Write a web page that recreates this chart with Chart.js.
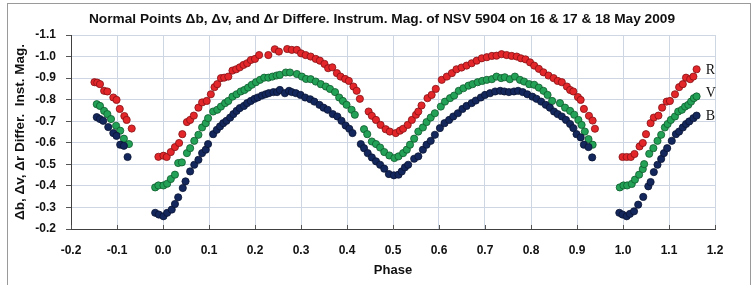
<!DOCTYPE html>
<html><head><meta charset="utf-8">
<script src="https://cdn.jsdelivr.net/npm/chart.js@4.4.0/dist/chart.umd.min.js"></script>
<style>html,body{margin:0;padding:0;background:#fff;}#wrap{width:755px;height:285px;position:relative;}</style>
</head><body><div id="wrap"><canvas id="c" width="755" height="285"></canvas></div>
<script>
// ---- data ----
const xTickLabels = ['-0.2','-0.1','0.0','0.1','0.2','0.3','0.4','0.5','0.6','0.7','0.8','0.9','1.0','1.1','1.2'];
const yTickLabels = ['-1.1','-1.0','-0.9','-0.8','-0.7','-0.6','-0.5','-0.4','-0.3','-0.2'];
const seriesNames = ['R','V','B'];

const rPhase = [-0.149,-0.143,-0.137,-0.128,-0.121,-0.108,-0.101,-0.094,-0.084,-0.079,-0.068,
 -0.010,0.001,0.008,0.017,0.026,0.035,0.042,0.052,0.059,0.067,0.077,0.085,0.095,0.104,0.112,0.118,0.126,0.133,0.142,0.151,0.159,0.167,0.175,0.183,0.191,0.200,0.209,0.229,0.243,0.252,0.270,
 0.280,0.291,0.300,0.310,0.321,0.332,0.341,0.351,0.359,0.368,0.378,0.386,0.396,0.404,0.414,0.421,0.428,0.447,0.454,0.463,0.473,0.484,0.493,0.506,0.515,0.522,0.532,0.541,0.550,0.555,0.562,0.575,0.584,0.593,
 0.606,0.617,0.628,0.638,0.649,0.660,0.671,0.682,0.693,0.704,0.715,0.725,0.736,0.747,0.758,0.769,0.778,0.788,0.798,0.807,0.817,0.827,0.838,0.849,0.858,0.867,0.878,0.885,0.892,0.902,0.908,0.915,0.926,0.934,0.939,
 0.999,1.008,1.017,1.025,1.036,1.043,1.050,1.060,1.067,1.077,1.085,1.095,1.102,1.113,1.122,1.130,1.137,1.146,1.153,1.160];
const rMag = [-0.881,-0.879,-0.872,-0.841,-0.838,-0.810,-0.799,-0.757,-0.724,-0.706,-0.666,
 -0.535,-0.540,-0.534,-0.557,-0.580,-0.599,-0.640,-0.696,-0.706,-0.726,-0.763,-0.787,-0.794,-0.825,-0.858,-0.872,-0.900,-0.902,-0.907,-0.935,-0.941,-0.950,-0.961,-0.969,-0.984,-0.989,-1.007,-1.007,-1.034,-1.023,-1.035,
 -1.031,-1.031,-1.015,-1.007,-1.000,-0.989,-0.981,-0.966,-0.946,-0.950,-0.923,-0.907,-0.896,-0.887,-0.861,-0.841,-0.804,-0.745,-0.725,-0.706,-0.683,-0.663,-0.652,-0.645,-0.656,-0.665,-0.683,-0.706,-0.730,-0.745,-0.773,-0.807,-0.822,-0.850,
 -0.892,-0.907,-0.923,-0.941,-0.949,-0.958,-0.969,-0.981,-0.992,-0.997,-1.003,-1.004,-1.011,-1.007,-1.003,-1.000,-0.992,-0.987,-0.973,-0.958,-0.943,-0.927,-0.912,-0.900,-0.887,-0.881,-0.861,-0.845,-0.838,-0.812,-0.799,-0.757,-0.725,-0.703,-0.665,
 -0.534,-0.534,-0.534,-0.548,-0.583,-0.599,-0.640,-0.691,-0.717,-0.726,-0.763,-0.791,-0.794,-0.825,-0.858,-0.872,-0.902,-0.895,-0.907,-0.941];

const vPhase = [-0.144,-0.137,-0.128,-0.121,-0.113,-0.102,-0.093,-0.085,-0.074,
 -0.017,-0.010,0.001,0.009,0.017,0.026,0.033,0.041,0.052,0.059,0.068,0.077,0.085,0.093,0.098,0.109,0.118,0.126,0.135,0.142,0.151,0.160,0.169,0.177,0.185,0.193,0.202,0.211,0.220,0.229,0.238,0.247,0.254,0.267,0.276,
 0.291,0.302,0.311,0.321,0.332,0.343,0.354,0.363,0.374,0.383,0.391,0.399,0.410,0.417,0.437,0.444,0.454,0.463,0.472,0.481,0.492,0.503,0.512,0.522,0.530,0.537,0.546,0.555,0.565,0.573,0.582,0.591,
 0.604,0.613,0.624,0.633,0.643,0.653,0.664,0.673,0.684,0.694,0.704,0.715,0.725,0.735,0.743,0.754,0.765,0.776,0.785,0.796,0.807,0.817,0.827,0.836,0.846,0.863,0.874,0.885,0.894,0.903,0.910,0.917,0.925,0.934,
 0.993,1.001,1.009,1.019,1.026,1.035,1.043,1.046,1.057,1.066,1.075,1.083,1.091,1.097,1.104,1.113,1.120,1.128,1.135,1.142,1.148,1.154,1.160];
const vMag = [-0.779,-0.771,-0.748,-0.733,-0.710,-0.679,-0.656,-0.619,-0.594,
 -0.393,-0.402,-0.402,-0.410,-0.432,-0.452,-0.506,-0.509,-0.552,-0.575,-0.609,-0.637,-0.671,-0.691,-0.714,-0.745,-0.753,-0.768,-0.784,-0.794,-0.814,-0.825,-0.838,-0.845,-0.856,-0.869,-0.881,-0.892,-0.902,-0.902,-0.907,-0.912,-0.915,-0.926,-0.926,
 -0.919,-0.907,-0.896,-0.895,-0.884,-0.872,-0.861,-0.850,-0.835,-0.810,-0.794,-0.776,-0.753,-0.730,-0.663,-0.640,-0.606,-0.594,-0.578,-0.557,-0.541,-0.529,-0.537,-0.552,-0.568,-0.591,-0.619,-0.652,-0.671,-0.696,-0.717,-0.737,
 -0.768,-0.791,-0.807,-0.819,-0.841,-0.853,-0.865,-0.872,-0.881,-0.887,-0.892,-0.895,-0.907,-0.900,-0.904,-0.895,-0.907,-0.892,-0.884,-0.872,-0.869,-0.856,-0.841,-0.822,-0.794,-0.784,-0.763,-0.748,-0.730,-0.706,-0.683,-0.652,-0.617,-0.591,
 -0.393,-0.402,-0.402,-0.409,-0.429,-0.452,-0.478,-0.501,-0.549,-0.575,-0.609,-0.637,-0.671,-0.687,-0.706,-0.722,-0.745,-0.753,-0.768,-0.776,-0.791,-0.807,-0.815];

const bPhase = [-0.144,-0.137,-0.130,-0.119,-0.108,-0.101,-0.093,-0.085,-0.077,
 -0.017,-0.009,0.001,0.009,0.019,0.026,0.033,0.043,0.049,0.059,0.068,0.077,0.085,0.093,0.098,0.109,0.117,0.124,0.131,0.138,0.146,0.153,0.160,0.167,0.176,0.183,0.191,0.199,0.206,0.215,0.223,0.230,0.240,0.248,0.254,0.265,0.274,
 0.280,0.289,0.299,0.309,0.320,0.329,0.340,0.349,0.358,0.369,0.379,0.388,0.397,0.405,0.412,0.430,0.437,0.445,0.454,0.463,0.472,0.481,0.491,0.502,0.512,0.519,0.526,0.533,0.546,0.555,0.565,0.573,0.582,0.591,
 0.602,0.612,0.622,0.631,0.641,0.651,0.660,0.671,0.680,0.691,0.700,0.711,0.722,0.733,0.742,0.752,0.763,0.772,0.782,0.792,0.803,0.812,0.822,0.832,0.841,0.850,0.858,0.867,0.876,0.885,0.892,0.899,0.908,0.915,0.925,0.933,
 0.992,0.999,1.008,1.015,1.024,1.033,1.044,1.055,1.060,1.067,1.075,1.083,1.089,1.096,1.106,1.115,1.122,1.130,1.137,1.144,1.153,1.160];
const bMag = [-0.719,-0.710,-0.702,-0.673,-0.645,-0.632,-0.591,-0.586,-0.534,
 -0.275,-0.267,-0.259,-0.275,-0.290,-0.316,-0.347,-0.390,-0.421,-0.467,-0.498,-0.521,-0.552,-0.568,-0.594,-0.640,-0.660,-0.676,-0.691,-0.702,-0.717,-0.733,-0.748,-0.761,-0.771,-0.784,-0.794,-0.804,-0.810,-0.819,-0.825,-0.830,-0.835,-0.835,-0.845,-0.830,-0.841,
 -0.835,-0.830,-0.822,-0.810,-0.802,-0.791,-0.776,-0.763,-0.753,-0.733,-0.722,-0.702,-0.680,-0.665,-0.645,-0.594,-0.575,-0.552,-0.532,-0.514,-0.498,-0.480,-0.455,-0.449,-0.452,-0.467,-0.486,-0.498,-0.526,-0.537,-0.568,-0.591,-0.609,-0.637,
 -0.668,-0.691,-0.706,-0.722,-0.737,-0.757,-0.771,-0.784,-0.796,-0.810,-0.822,-0.830,-0.838,-0.841,-0.838,-0.835,-0.838,-0.841,-0.835,-0.825,-0.814,-0.804,-0.791,-0.776,-0.763,-0.745,-0.733,-0.722,-0.706,-0.687,-0.668,-0.640,-0.625,-0.591,-0.580,-0.532,
 -0.275,-0.267,-0.259,-0.270,-0.282,-0.313,-0.349,-0.398,-0.418,-0.464,-0.498,-0.525,-0.552,-0.575,-0.609,-0.640,-0.652,-0.671,-0.687,-0.699,-0.714,-0.726];

// ---- chart ----
const FONT = "'Liberation Sans',Arial,sans-serif";
const toPts = (xs, ys) => xs.map((x, i) => ({x: x, y: ys[i]}));
const labelFor = (list, v) => {
  const hit = list.find(l => Math.abs(parseFloat(l) - v) < 1e-6);
  return hit !== undefined ? hit : (Math.abs(v) < 1e-9 ? '0.0' : v.toFixed(1));
};

const decor = {
  id: 'decor',
  beforeDraw(chart) {
    const ctx = chart.ctx;
    ctx.save();
    ctx.fillStyle = '#fff';
    ctx.fillRect(0, 0, chart.width, chart.height);
    ctx.strokeStyle = '#9a9a9a';
    ctx.lineWidth = 1;
    ctx.strokeRect(7.5, 3.5, 743, 300);
    ctx.restore();
  },
  afterDraw(chart) {
    const ctx = chart.ctx;
    const xs = chart.scales.x, ys = chart.scales.y;
    const area = chart.chartArea;
    ctx.save();
    // short inside tick marks on the x axis
    ctx.strokeStyle = '#555';
    ctx.lineWidth = 1;
    xs.ticks.forEach(t => {
      const px = Math.round(xs.getPixelForValue(t.value)) + 0.5;
      ctx.beginPath();
      ctx.moveTo(px, area.bottom);
      ctx.lineTo(px, area.bottom - 4);
      ctx.stroke();
    });
    ctx.fillStyle = '#111';
    ctx.font = "bold 13.7px " + FONT;
    ctx.textAlign = 'center';
    ctx.textBaseline = 'middle';
    ctx.fillText('Normal Points \u0394b, \u0394v, and \u0394r Differe. Instrum. Mag. of NSV 5904 on 16 & 17 & 18 May 2009', 382, 19);
    const labY = [-0.938, -0.831, -0.725];
    ctx.font = "14px 'Liberation Serif','DejaVu Serif',serif";
    ctx.textAlign = 'left';
    seriesNames.forEach((n, i) => {
      ctx.fillText(n, xs.getPixelForValue(1.18), ys.getPixelForValue(labY[i]));
    });
    ctx.restore();
  }
};

const mk = (label, pts, fill, stroke) => ({
  label: label, data: pts, showLine: false,
  pointRadius: 3.6, pointHoverRadius: 3.6, pointBorderWidth: 0.8,
  backgroundColor: fill, borderColor: stroke,
  pointBackgroundColor: fill, pointBorderColor: stroke
});

new Chart(document.getElementById('c'), {
  type: 'scatter',
  data: {
    datasets: [
      mk('B', toPts(bPhase, bMag), '#13275c', '#0a1433'),
      mk('V', toPts(vPhase, vMag), '#23a257', '#0e5a2c'),
      mk('R', toPts(rPhase, rMag), '#e3262a', '#851014')
    ]
  },
  options: {
    responsive: false, animation: false, devicePixelRatio: 1,
    layout: {padding: {top: 35, right: 40, bottom: 0, left: 0}},
    plugins: {legend: {display: false}, tooltip: {enabled: false}, title: {display: false}},
    scales: {
      x: {
        type: 'linear', min: -0.2, max: 1.2,
        afterFit: s => { s.height = 56; },
        ticks: {stepSize: 0.1, color: '#111', padding: 14, font: {family: FONT, size: 12, weight: 'bold'},
          callback: v => labelFor(xTickLabels, v)},
        grid: {color: '#cdd6e2', lineWidth: 1, tickLength: 0, drawTicks: false},
        border: {display: true, color: '#404040', width: 1},
        title: {display: true, text: 'Phase', color: '#111', font: {family: FONT, size: 13, weight: 'bold'}, padding: {top: 0, bottom: 7}}
      },
      y: {
        type: 'linear', min: -1.1, max: -0.2, reverse: true,
        afterFit: s => { s.width = 71; },
        ticks: {stepSize: 0.1, color: '#111', padding: 10, font: {family: FONT, size: 12, weight: 'bold'},
          callback: v => labelFor(yTickLabels, v)},
        grid: {color: '#cdd6e2', lineWidth: 1, tickLength: 5, tickColor: '#555'},
        border: {display: true, color: '#404040', width: 1},
        title: {display: true, text: '\u0394b, \u0394v, \u0394r Differ.  Inst. Mag.', color: '#111', font: {family: FONT, size: 13.5, weight: 'bold'}, padding: {top: 12, bottom: 0}}
      }
    }
  },
  plugins: [decor]
});
</script></body></html>
